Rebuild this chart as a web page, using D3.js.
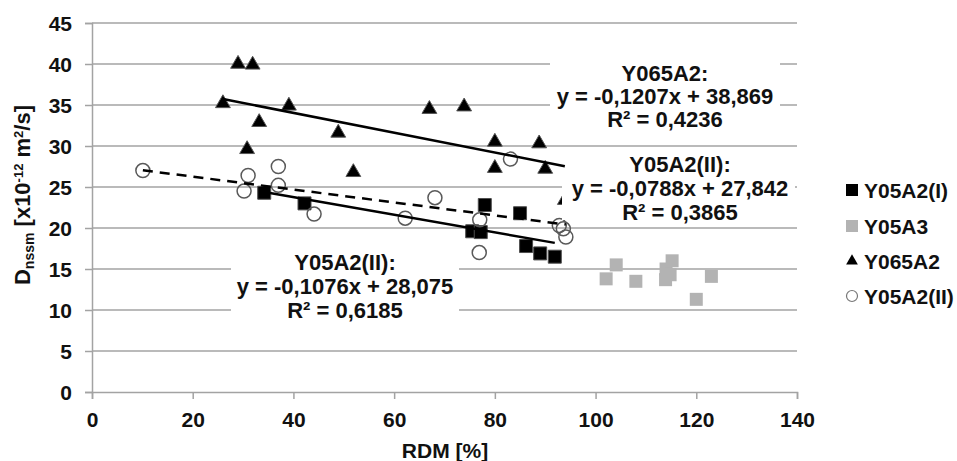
<!DOCTYPE html>
<html>
<head>
<meta charset="utf-8">
<script src="https://cdn.jsdelivr.net/npm/d3@7"></script>
<style>
  body { margin: 0; background: #fff; }
  svg { display: block; font-family: "Liberation Sans", Arial, sans-serif; font-weight: bold; }
</style>
</head>
<body>
<div id="chart"></div>
<script>
// values
var xTicks = [0, 20, 40, 60, 80, 100, 120, 140];
var yTicks = [0, 5, 10, 15, 20, 25, 30, 35, 40, 45];

var seriesNames = ["Y05A2(I)", "Y05A3", "Y065A2", "Y05A2(II)"];

var y05a2iX = [34.2, 42.2, 75.5, 77.2, 78.0, 85.0, 86.2, 89.0, 91.9];
var y05a2iY = [24.3, 23.0, 19.6, 19.5, 22.8, 21.8, 17.8, 16.9, 16.5];

var y05a3X = [102.1, 104.1, 108.0, 113.9, 114.0, 114.8, 115.2, 120.0, 123.0];
var y05a3Y = [13.8, 15.5, 13.5, 13.7, 15.0, 14.3, 16.0, 11.3, 14.1];

var y065a2X = [26.0, 29.0, 31.9, 30.8, 33.2, 39.1, 48.9, 51.9, 67.0, 73.9, 80.0, 80.0, 88.8, 90.0, 93.9];
var y065a2Y = [35.2, 40.0, 39.9, 29.6, 32.9, 34.9, 31.6, 26.8, 34.5, 34.8, 30.5, 27.3, 30.3, 27.2, 23.4];

var y05a2iiX = [10.1, 30.2, 31.0, 37.0, 37.0, 44.1, 62.2, 68.1, 77.0, 76.9, 83.1, 92.8, 93.6, 94.1];
var y05a2iiY = [27.0, 24.5, 26.4, 27.5, 25.2, 21.7, 21.2, 23.7, 21.0, 17.0, 28.4, 20.3, 19.9, 18.9];

// trendlines: which series, slope, intercept, label lines
var trendSeries = ["Y065A2", "Y05A2(II)", "Y05A2(I)"];
var trendSlopes = [-0.1207, -0.0788, -0.1076];
var trendIntercepts = [38.869, 27.842, 28.075];
var trendLabels = [
  ["Y065A2:", "y = -0,1207x + 38,869", "R\u00b2 = 0,4236"],
  ["Y05A2(II):", "y = -0,0788x + 27,842", "R\u00b2 = 0,3865"],
  ["Y05A2(II):", "y = -0,1076x + 28,075", "R\u00b2 = 0,6185"]
];

(function(){

  var width = 957, height = 461;
  var margin = {top: 23, right: 160, bottom: 69, left: 92};
  var plotW = 797 - margin.left, plotH = 392 - margin.top;

  var svg = d3.select("#chart").append("svg")
    .attr("width", width)
    .attr("height", height);

  var x = d3.scaleLinear().domain([0, 140]).range([margin.left, margin.left + plotW]);
  var y = d3.scaleLinear().domain([0, 45]).range([margin.top + plotH, margin.top]);

  var gridColor = "#a3a3a3";

  // horizontal gridlines
  svg.append("g")
    .selectAll("line")
    .data(yTicks.filter(function(d){ return d > 0; }))
    .enter().append("line")
    .attr("x1", x(0)).attr("x2", x(140))
    .attr("y1", function(d){ return y(d); })
    .attr("y2", function(d){ return y(d); })
    .attr("stroke", gridColor)
    .attr("stroke-width", 1.5);

  // y axis
  var yAxis = svg.append("g")
    .attr("transform", "translate(" + x(0) + ",0)")
    .call(d3.axisLeft(y).tickValues(yTicks).tickSize(7).tickPadding(13));
  // x axis
  var xAxis = svg.append("g")
    .attr("transform", "translate(0," + y(0) + ")")
    .call(d3.axisBottom(x).tickValues(xTicks).tickSize(7).tickPadding(8));

  [xAxis, yAxis].forEach(function(a){
    a.select(".domain").attr("stroke", gridColor).attr("stroke-width", 1.5);
    a.selectAll(".tick line").attr("stroke", gridColor).attr("stroke-width", 1.5);
    a.selectAll(".tick text")
      .attr("fill", "#111")
      .style("font-size", "21px")
      .style("font-family", "'Liberation Sans', Arial, sans-serif")
      .style("font-weight", "bold");
  });
  yAxis.selectAll(".tick text").attr("dy", "0.36em");
  xAxis.selectAll(".tick text").attr("dy", "0.95em");

  // axis titles
  svg.append("text")
    .attr("x", 445).attr("y", 458)
    .attr("text-anchor", "middle")
    .style("font-size", "21px")
    .attr("fill", "#111")
    .text("RDM [%]");

  var yt = svg.append("text")
    .attr("transform", "translate(30,195) rotate(-90)")
    .attr("text-anchor", "middle")
    .style("font-size", "22px")
    .attr("fill", "#111");
  yt.append("tspan").text("D");
  yt.append("tspan").attr("dy", 4).style("font-size", "14px").text("nssm");
  yt.append("tspan").attr("dy", -4).text(" [x10");
  yt.append("tspan").attr("dy", -7).style("font-size", "13px").text("-12");
  yt.append("tspan").attr("dy", 7).text(" m");
  yt.append("tspan").attr("dy", -7).style("font-size", "13px").text("2");
  yt.append("tspan").attr("dy", 7).text("/s]");

  function pts(xs, ys) {
    return xs.map(function(d, i){ return {x: d, y: ys[i]}; });
  }
  var seriesData = {
    "Y05A2(I)": pts(y05a2iX, y05a2iY),
    "Y05A3": pts(y05a3X, y05a3Y),
    "Y065A2": pts(y065a2X, y065a2Y),
    "Y05A2(II)": pts(y05a2iiX, y05a2iiY)
  };

  var squareSym = d3.symbol().type(d3.symbolSquare).size(169);
  var triSym = d3.symbol().type(d3.symbolTriangle).size(95);

  // series marks
  function drawSquares(data, fill, stroke) {
    svg.append("g").selectAll("path")
      .data(data).enter().append("path")
      .attr("d", squareSym)
      .attr("transform", function(d){ return "translate(" + x(d.x) + "," + y(d.y) + ")"; })
      .attr("fill", fill)
      .attr("stroke", stroke)
      .attr("stroke-width", 1);
  }
  drawSquares(seriesData["Y05A2(I)"], "#000", "#4d4d4d");
  drawSquares(seriesData["Y05A3"], "#b3b3b3", "none");

  svg.append("g").selectAll("path")
    .data(seriesData["Y065A2"]).enter().append("path")
    .attr("d", triSym)
    .attr("transform", function(d){ return "translate(" + x(d.x) + "," + y(d.y) + ")"; })
    .attr("fill", "#000")
    .attr("stroke", "#555")
    .attr("stroke-width", 1);

  svg.append("g").selectAll("circle")
    .data(seriesData["Y05A2(II)"]).enter().append("circle")
    .attr("cx", function(d){ return x(d.x); })
    .attr("cy", function(d){ return y(d.y); })
    .attr("r", 7)
    .attr("fill", "none")
    .attr("stroke", "#595959")
    .attr("stroke-width", 1.5);

  // trendlines over the full x range of each series
  trendSeries.forEach(function(name, i){
    var ext = d3.extent(seriesData[name], function(d){ return d.x; });
    var f = function(v){ return trendSlopes[i] * v + trendIntercepts[i]; };
    svg.append("line")
      .attr("x1", x(ext[0])).attr("y1", y(f(ext[0])))
      .attr("x2", x(ext[1])).attr("y2", y(f(ext[1])))
      .attr("stroke", "#000")
      .attr("stroke-width", 2.5)
      .attr("stroke-dasharray", name === "Y05A2(II)" ? "10,7" : null);
  });

  // trendline labels with white boxes
  var labelBoxes = [
    {x0: 550, x1: 780, y0: 52, y1: 134, cx: 665, base: 81, step: 23},
    {x0: 562, x1: 795, y0: 175, y1: 220, cx: 680, base: 172, step: 24},
    {x0: 231, x1: 459, y0: 250, y1: 326, cx: 345, base: 270, step: 24}
  ];
  labelBoxes.forEach(function(b, i){
    svg.append("rect")
      .attr("x", b.x0).attr("y", b.y0)
      .attr("width", b.x1 - b.x0).attr("height", b.y1 - b.y0)
      .attr("fill", "#fff");
    svg.append("g").selectAll("text")
      .data(trendLabels[i]).enter().append("text")
      .attr("x", b.cx)
      .attr("y", function(d, j){ return b.base + j * b.step; })
      .attr("text-anchor", "middle")
      .style("font-size", "22px")
      .attr("fill", "#111")
      .text(function(d){ return d; });
  });

  // legend
  var legend = svg.append("g");
  var legendY = [190, 226, 261, 296];
  seriesNames.forEach(function(name, i){
    var g = legend.append("g").attr("transform", "translate(852," + legendY[i] + ")");
    if (name === "Y05A2(I)") {
      g.append("rect").attr("x", -6).attr("y", -6).attr("width", 12).attr("height", 12).attr("fill", "#000");
    } else if (name === "Y05A3") {
      g.append("rect").attr("x", -6).attr("y", -6).attr("width", 12).attr("height", 12).attr("fill", "#b3b3b3");
    } else if (name === "Y065A2") {
      g.append("path").attr("d", d3.symbol().type(d3.symbolTriangle).size(60)).attr("fill", "#000");
    } else {
      g.append("circle").attr("r", 5.5).attr("fill", "none").attr("stroke", "#777").attr("stroke-width", 1.2);
    }
    g.append("text")
      .attr("x", 12).attr("y", 7.5)
      .style("font-size", "21px")
      .attr("fill", "#111")
      .text(name);
  });

})();
</script>
</body>
</html>
